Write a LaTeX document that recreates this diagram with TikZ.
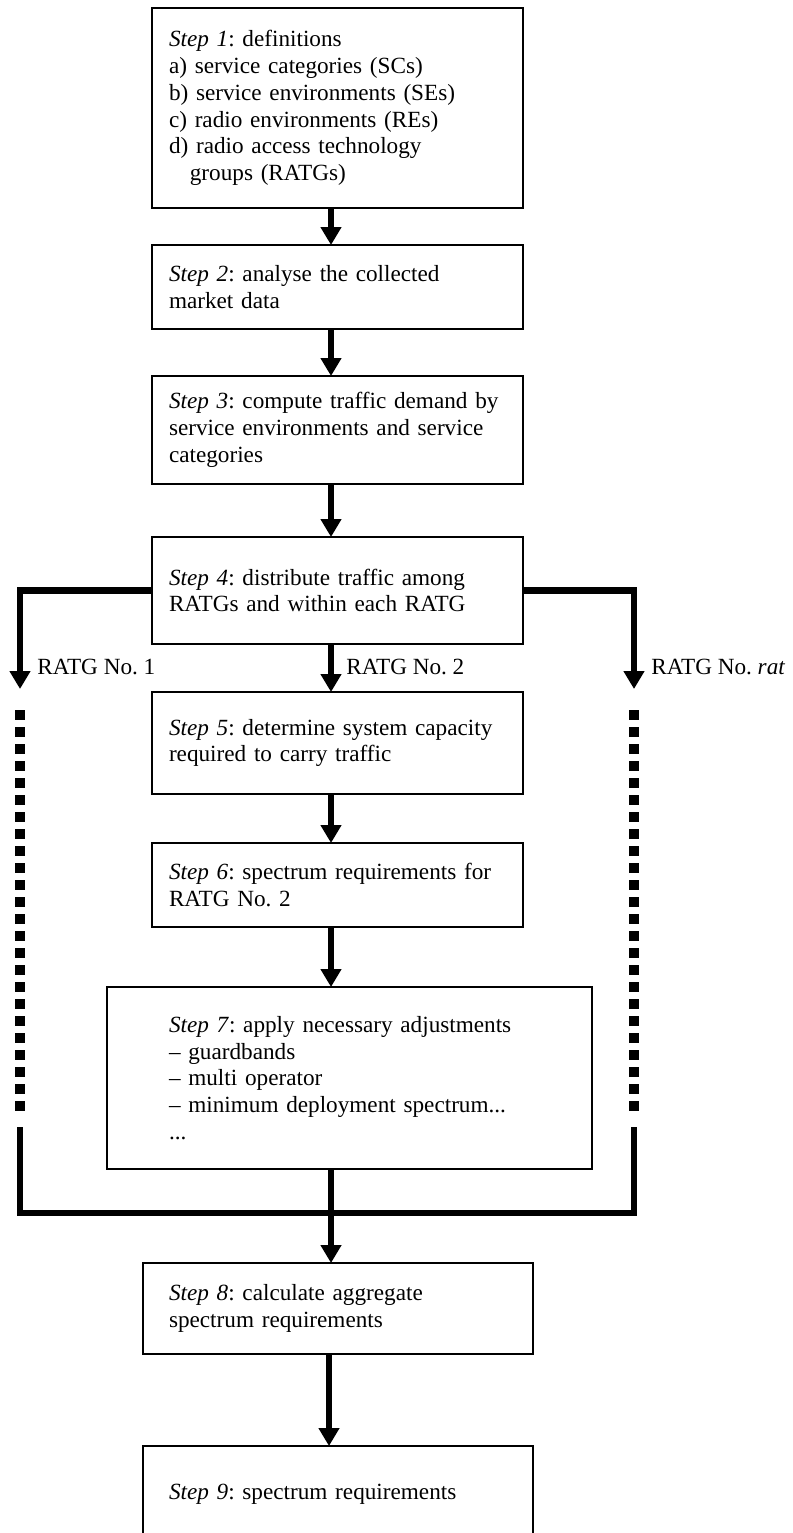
\documentclass[tikz,border=0pt]{standalone}
\usepackage{fontspec}
\setmainfont{Liberation Serif}
\usetikzlibrary{arrows.meta}

\begin{document}
\frenchspacing
\begin{tikzpicture}[x=0.5pt,y=-0.5pt,
  stepbox/.style={draw,line width=0.8pt,align=left,outer sep=0pt,inner ysep=2pt,
    inner xsep=8.5pt,text width=168.5pt,font=\fontsize{11.6}{13.4}\selectfont},
  widebox/.style={stepbox,inner xsep=31pt,text width=180.5pt},
  lowbox/.style={stepbox,inner xsep=13pt,text width=169pt},
  flow/.style={line width=3.3pt,-{Triangle[width=10pt,length=9pt]}},
  link/.style={line width=3.3pt},
  dotline/.style={line width=5pt,dash pattern=on 5pt off 3.5pt},
  ratg/.style={anchor=base west,inner sep=0pt,font=\fontsize{11.6}{13.4}\selectfont}]
\useasboundingbox (0,0) rectangle (793,1533);
\clip (0,0) rectangle (793,1533);
\coordinate (col) at (331,0);

% steps
\node[stepbox,minimum height=100pt] (b1) at (337.5,108)
 {\textit{Step 1}: definitions\\
  a) service categories (SCs)\\
  b) service environments (SEs)\\
  c) radio environments (REs)\\
  d) radio access technology\\
  \hspace*{0.9em}groups (RATGs)};
\node[stepbox,minimum height=42pt] (b2) at (337.5,287)
 {\textit{Step 2}: analyse the collected\\ market data};
\node[stepbox,minimum height=54pt] (b3) at (337.5,430)
 {\textit{Step 3}: compute traffic demand by\\ service environments and service\\ categories};
\node[stepbox,minimum height=53.5pt] (b4) at (337.5,590.5)
 {\textit{Step 4}: distribute traffic among\\ RATGs and within each RATG};
\node[stepbox,minimum height=51pt] (b5) at (337.5,743)
 {\textit{Step 5}: determine system capacity\\ required to carry traffic};
\node[stepbox,minimum height=42pt] (b6) at (337.5,885)
 {\textit{Step 6}: spectrum requirements for\\ RATG No. 2};
\node[widebox,minimum height=91pt] (b7) at (349.5,1078)
 {\textit{Step 7}: apply necessary adjustments\\
  \textendash{} guardbands\\
  \textendash{} multi operator\\
  \textendash{} minimum deployment spectrum...\\
  ...};
\node[lowbox,minimum height=45.5pt] (b8) at (338,1308.5)
 {\textit{Step 8}: calculate aggregate\\ spectrum requirements};
\node[lowbox,minimum height=48pt] (b9) at (338,1494)
 {\textit{Step 9}: spectrum requirements};

% main flow
\draw[flow] (b1.south -| col) -- (b2.north -| col);
\draw[flow] (b2.south -| col) -- (b3.north -| col);
\draw[flow] (b3.south -| col) -- (b4.north -| col);
\draw[flow] (b4.south -| col) -- (b5.north -| col);
\draw[flow] (b5.south -| col) -- (b6.north -| col);
\draw[flow] (b6.south -| col) -- (b7.north -| col);
\draw[flow] (b7.south -| col) -- (b8.north -| col);
\draw[flow] ([xshift=-1pt]b8.south -| col) -- ([xshift=-1pt]b9.north -| col);

% the other RATGs
\coordinate (l1) at (20,689);
\coordinate (r1) at (634,689);
\draw[flow] (b4.west) -| (l1);
\draw[flow] (b4.east) -| (r1);
\node[ratg] (n1) at (37,674) {RATG No. 1};
\node[ratg] (n2) at (346,674) {RATG No. 2};
\node[ratg] (n3) at (651,674) {RATG No. \textit{rat}};

\coordinate (l2) at (20,710);
\coordinate (l3) at (20,1111);
\coordinate (r2) at (634,710);
\coordinate (r3) at (634,1111);
\draw[dotline] (l2) -- (l3);
\draw[dotline] (r2) -- (r3);

% collect
\coordinate (l4) at (20,1127);
\coordinate (l5) at (20,1213);
\coordinate (r4) at (634,1127);
\coordinate (r5) at (634,1213);
\draw[link] (l4) -- (l5) -- (r5) -- (r4);
\end{tikzpicture}
\end{document}
